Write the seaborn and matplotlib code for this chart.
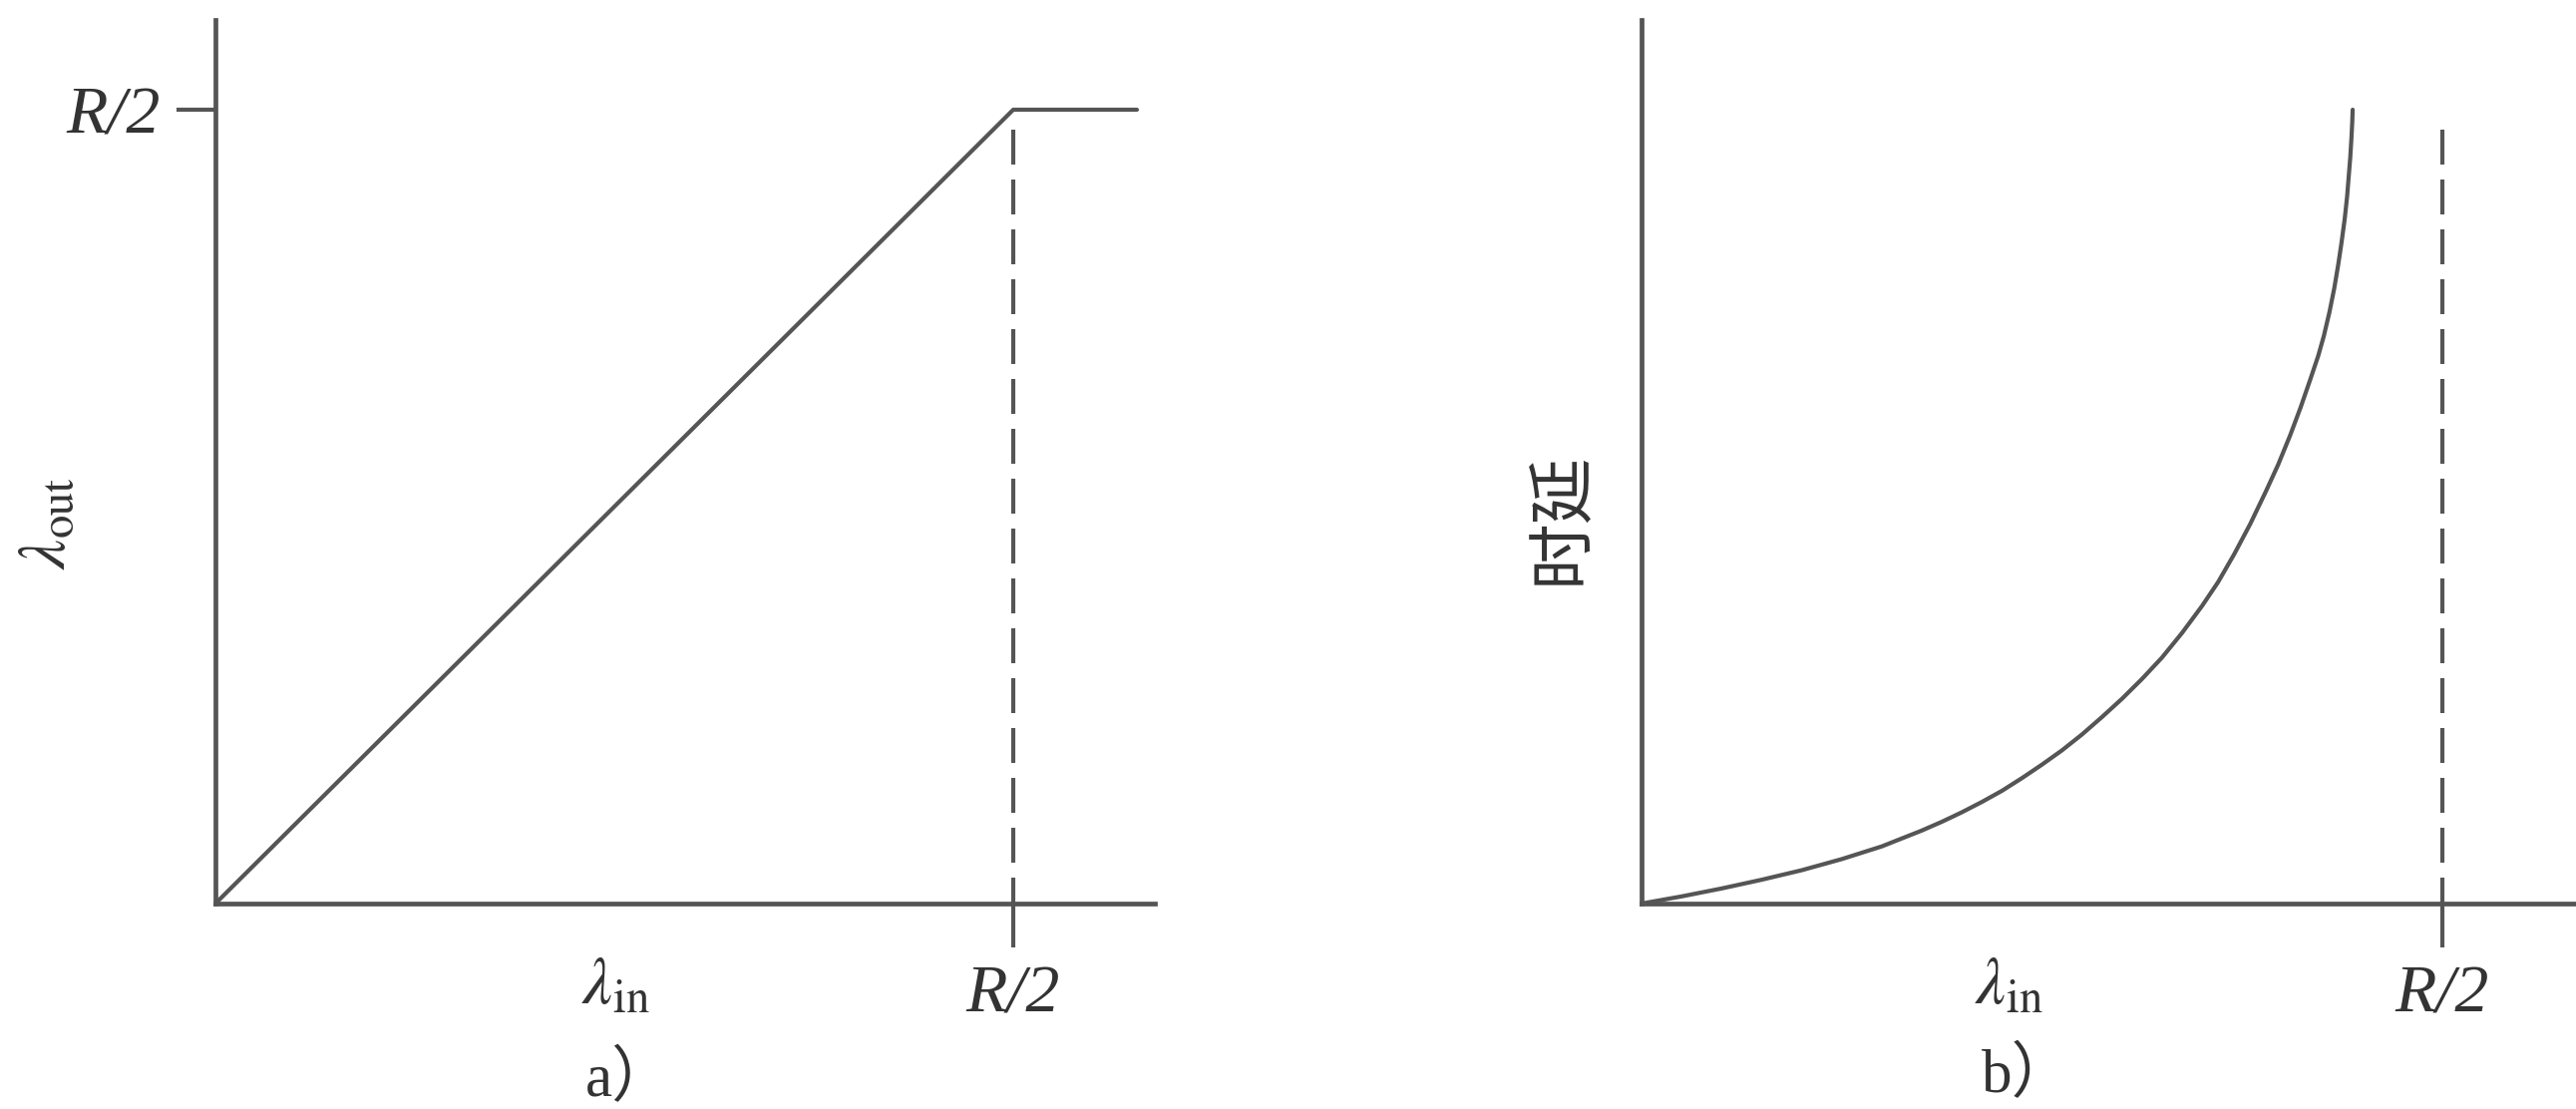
import matplotlib
matplotlib.use("Agg")
import matplotlib.pyplot as plt
import seaborn as sns
import pandas as pd

# ---- data (R/2 = 1) ----
thr_in = [0.0, 1.0, 1.155]
thr_out = [0.0, 1.0, 1.0]

delay_in = [0.0, 0.025, 0.05, 0.075, 0.1, 0.125, 0.15, 0.175, 0.2, 0.225, 0.25,
            0.275, 0.3, 0.325, 0.35, 0.375, 0.4, 0.425, 0.45, 0.475, 0.5, 0.525,
            0.55, 0.575, 0.6, 0.625, 0.65, 0.675, 0.7, 0.72, 0.74, 0.76, 0.78,
            0.795, 0.81, 0.823, 0.835, 0.845, 0.852, 0.859, 0.865, 0.870, 0.874,
            0.878, 0.881, 0.883, 0.885, 0.8865, 0.8875, 0.888]
delay_val = [0.0, 0.0045, 0.009, 0.014, 0.019, 0.0245, 0.030, 0.036, 0.042, 0.049,
             0.056, 0.064, 0.072, 0.082, 0.092, 0.103, 0.115, 0.128, 0.142, 0.158,
             0.175, 0.193, 0.213, 0.235, 0.258, 0.283, 0.31, 0.341, 0.375, 0.405,
             0.44, 0.478, 0.52, 0.553, 0.59, 0.625, 0.66, 0.69, 0.715, 0.745,
             0.775, 0.805, 0.832, 0.862, 0.89, 0.915, 0.94, 0.965, 0.985, 1.0]

R_half = 1.0
tick_label = "R/2"
xlabel_text = r"$\lambda_{\mathrm{in}}$"
ylabel_left = r"$\lambda_{\mathrm{out}}$"
ylabel_right = "时延"
panel_labels = ["a）", "b）"]

sns.set_theme(style="white")
plt.rcParams["font.family"] = ["Liberation Serif", "Noto Sans CJK SC", "DejaVu Sans"]
plt.rcParams["mathtext.fontset"] = "stix"

GREY = "#555555"
TXT = "#333333"
LW = 3.0
AXLW = 3.4

fig = plt.figure(figsize=(25.83, 11.12), dpi=100)
ax1 = fig.add_axes([216 / 2583, 206 / 1112, (1158 - 216) / 2583, 886 / 1112])
ax2 = fig.add_axes([1646 / 2583, 206 / 1112, (2583 - 1646) / 2583, 886 / 1112])

df1 = pd.DataFrame({"x": thr_in, "y": thr_out})
df2 = pd.DataFrame({"x": delay_in, "y": delay_val})
sns.lineplot(data=df1, x="x", y="y", ax=ax1, color=GREY, lw=LW, sort=False)
sns.lineplot(data=df2, x="x", y="y", ax=ax2, color=GREY, lw=LW, sort=False)

ax1.set_xlim(0, 942 / 800)
ax2.set_xlim(0, 937 / 803)
for ax in (ax1, ax2):
    ax.set_ylim(0, 886 / 796)
    for s in ("top", "right"):
        ax.spines[s].set_visible(False)
    for s in ("left", "bottom"):
        ax.spines[s].set_color(GREY)
        ax.spines[s].set_linewidth(AXLW)
    ax.set_xlabel("")
    ax.set_ylabel("")
    # dashed vertical at R/2
    ax.plot([R_half, R_half], [0.975, 0.0], color=GREY, lw=LW,
            dashes=(8.4, 3.6), clip_on=False)
    ax.set_xticks([R_half])
    ax.set_xticklabels([tick_label], fontstyle="italic", fontsize=49, color=TXT)
    ax.tick_params(axis="x", direction="out", length=32, width=LW,
                   color=GREY, pad=12, bottom=True)
    ax.set_facecolor("white")

ax1.set_yticks([R_half])
ax1.set_yticklabels([tick_label], fontstyle="italic", fontsize=49, color=TXT)
ax1.tick_params(axis="y", direction="out", length=28, width=LW,
                color=GREY, pad=12, left=True)
ax2.set_yticks([])

# axis labels / panel labels
ax1.text(0.459, -0.105, xlabel_text, fontsize=48, color=TXT,
         ha="left", va="center", clip_on=False)
ax2.text(0.416, -0.105, xlabel_text, fontsize=48, color=TXT,
         ha="left", va="center", clip_on=False)
ax1.text(0.464, -0.222, panel_labels[0], fontsize=44, color=TXT,
         ha="left", va="center", clip_on=False,
         family=["Liberation Serif", "Noto Sans CJK SC"])
ax2.text(0.425, -0.218, panel_labels[1], fontsize=44, color=TXT,
         ha="left", va="center", clip_on=False,
         family=["Liberation Serif", "Noto Sans CJK SC"])
ax1.text(-0.178, 0.43, ylabel_left, fontsize=48, color=TXT, rotation=90,
         ha="center", va="center", transform=ax1.transAxes)
ax2.text(-0.086, 0.436, ylabel_right, fontsize=48, color=TXT, rotation=90,
         ha="center", va="center", transform=ax2.transAxes,
         family=["Noto Sans CJK SC", "DejaVu Sans"])

fig.savefig("out.png", dpi=100, facecolor="white")
